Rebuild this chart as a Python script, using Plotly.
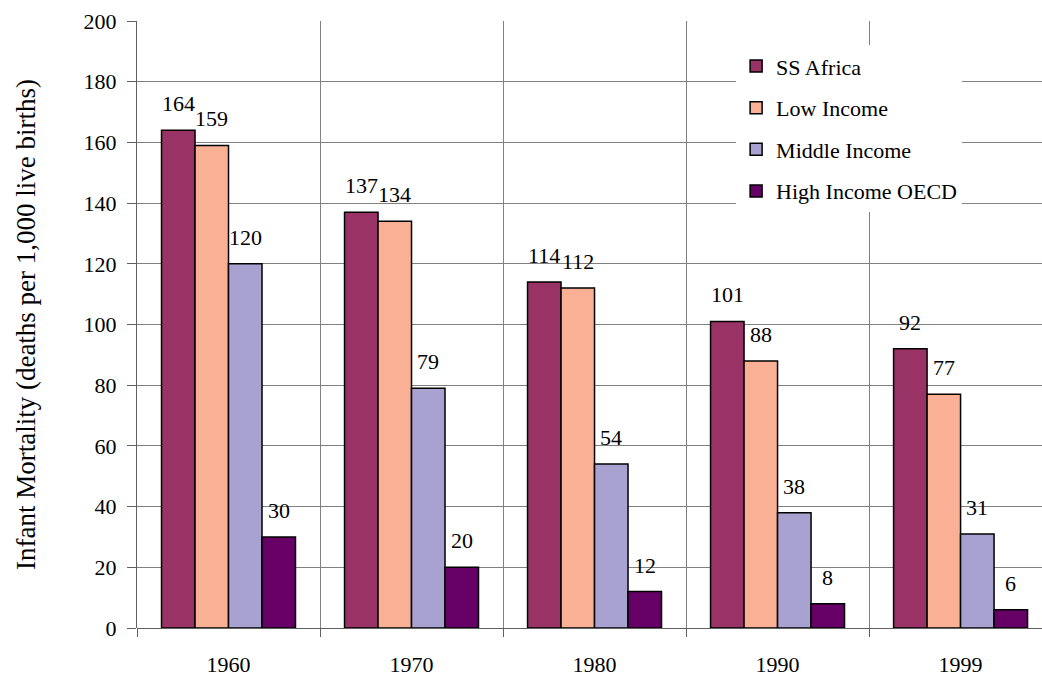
import plotly.graph_objects as go

years = ["1960", "1970", "1980", "1990", "1999"]
series_names = ["SS Africa", "Low Income", "Middle Income", "High Income OECD"]
ss_africa = [164, 137, 114, 101, 92]
low_income = [159, 134, 112, 88, 77]
middle_income = [120, 79, 54, 38, 31]
high_income = [30, 20, 12, 8, 6]
values = [ss_africa, low_income, middle_income, high_income]
colors = ["#993366", "#F9B094", "#A8A2D0", "#660066"]

FONT = "Liberation Serif, serif"
xpos = list(range(len(years)))
bargap = 0.268
bw = (1 - bargap) / 4

fig = go.Figure()
annotations = []
for k, (name, vals, col) in enumerate(zip(series_names, values, colors)):
    fig.add_trace(go.Bar(
        x=xpos, y=vals, name=name, marker=dict(color=col, line=dict(color="black", width=1.5)),
        legendgroup=name,
    ))
    off = (k - 1.5) * bw
    for xi, v in zip(xpos, vals):
        annotations.append(dict(x=xi + off, y=v, text=str(v), showarrow=False,
                                yanchor="bottom", yshift=12, xref="x", yref="y",
                                font=dict(family=FONT, size=22, color="black")))

fig.update_layout(
    width=1042, height=677,
    margin=dict(l=137, r=0, t=21, b=49, autoexpand=False),
    barmode="group", bargap=bargap, bargroupgap=0,
    plot_bgcolor="white", paper_bgcolor="white",
    font=dict(family=FONT, size=22, color="black"),
    annotations=annotations,
    legend=dict(x=0.662, y=0.960, xanchor="left", yanchor="top",
                bgcolor="white", borderwidth=0, font=dict(family=FONT, size=22),
                tracegroupgap=10, traceorder="grouped"),
    xaxis=dict(range=[-0.5, 4.445], tickvals=xpos, ticktext=years, ticks="",
               showgrid=False, zeroline=False, showline=False, automargin=False,
               ticklabelstandoff=21,
               minor=dict(tick0=0.5, dtick=1, showgrid=True, gridcolor="#808080",
                          gridwidth=1, ticks="outside", ticklen=8, tickcolor="#606060")),
    yaxis=dict(range=[0, 200], dtick=20, showgrid=True, gridcolor="#808080", gridwidth=1,
               ticks="outside", ticklen=9, tickcolor="#606060", showline=True,
               linecolor="#606060", linewidth=1, zeroline=True, zerolinecolor="#606060",
               zerolinewidth=1, ticklabelstandoff=6, automargin=False,
               title=dict(text="Infant Mortality (deaths per 1,000 live births)",
                          font=dict(family=FONT, size=27), standoff=40)),
)
fig.write_html("out.html", post_script="document.body.style.margin='0';",
               config={"displayModeBar": False})
